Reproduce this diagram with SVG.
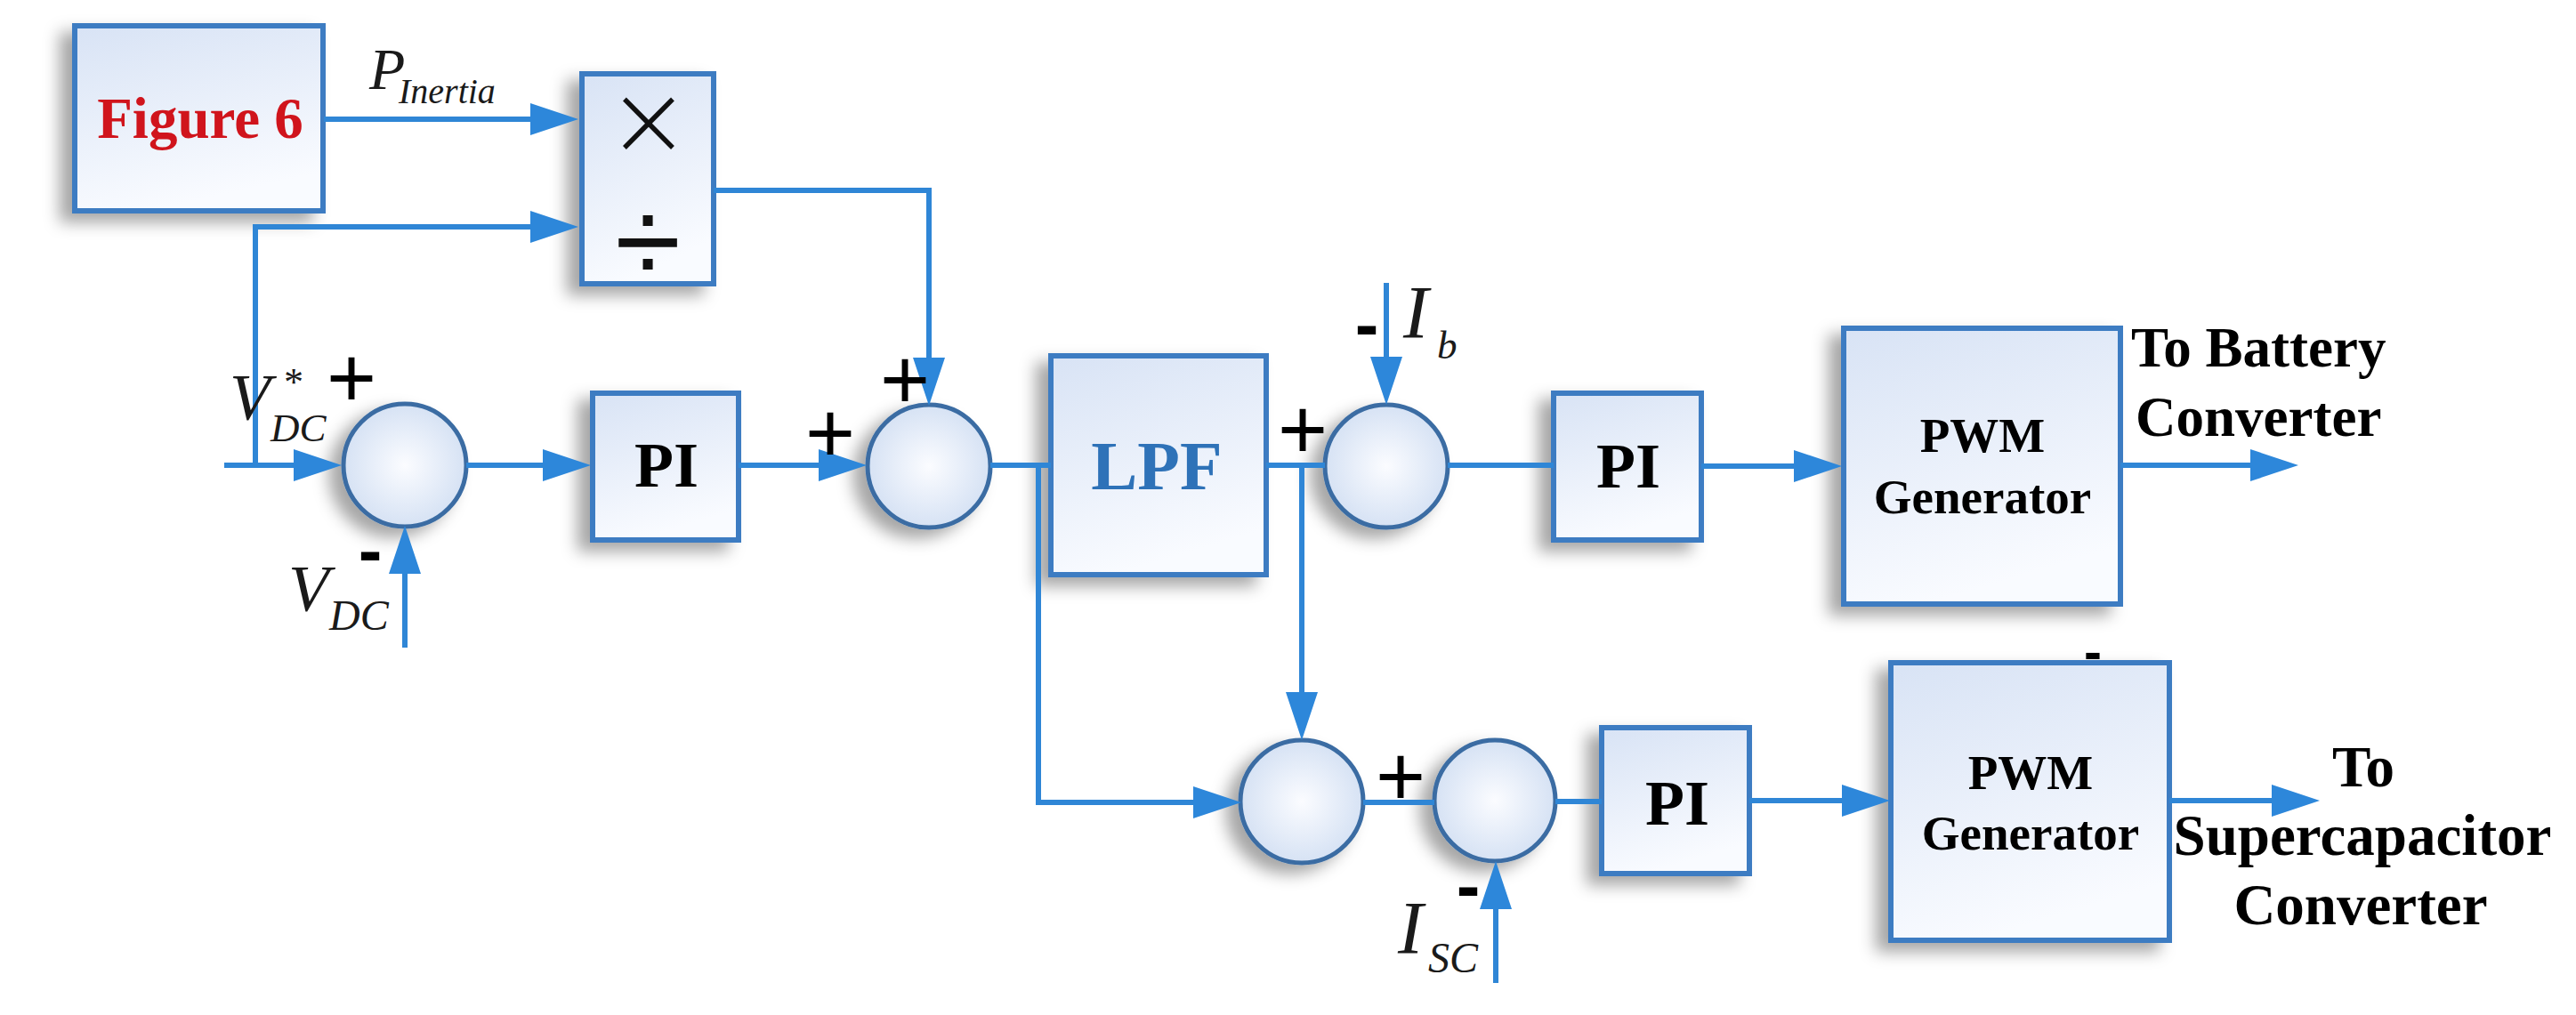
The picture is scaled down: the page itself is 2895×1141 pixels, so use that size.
<svg xmlns="http://www.w3.org/2000/svg" width="2895" height="1141" viewBox="0 0 2895 1141">
<defs>
<linearGradient id="boxfill" x1="0" y1="0" x2="0.3" y2="1"><stop offset="0" stop-color="#d8e3f5"/><stop offset="1" stop-color="#f9fbff"/></linearGradient>
<radialGradient id="circfill" cx="0.5" cy="0.5" r="0.5"><stop offset="0" stop-color="#fbfcff"/><stop offset="1" stop-color="#d6e2f4"/></radialGradient>
<filter id="shadow" x="-25%" y="-25%" width="150%" height="150%"><feGaussianBlur in="SourceAlpha" stdDeviation="9"/><feOffset dx="-14" dy="10" result="b"/><feFlood flood-color="#000" flood-opacity="0.35"/><feComposite in2="b" operator="in"/><feMerge><feMergeNode/><feMergeNode in="SourceGraphic"/></feMerge></filter>
<marker id="arrow" markerUnits="userSpaceOnUse" markerWidth="54" markerHeight="36" viewBox="0 0 54 36" refX="24" refY="18" orient="auto"><path d="M0,0 L54,18 L0,36 z" fill="#2d87da"/></marker>
</defs>
<style>
.box{fill:url(#boxfill);stroke:#3c7bc2;stroke-width:6;filter:url(#shadow)}
.sum{fill:url(#circfill);stroke:#3a6ca3;stroke-width:5;filter:url(#shadow)}
.wire{fill:none;stroke:#2f86d6;stroke-width:6}
.arr{marker-end:url(#arrow)}
.lbl{font-family:"Liberation Serif","Times New Roman",serif;font-weight:bold;fill:#000}
.mid{text-anchor:middle}
.math{font-family:"Liberation Serif","Times New Roman",serif;font-style:italic;fill:#1a1a1a}
.sign{font-family:"Liberation Sans",Arial,sans-serif;font-size:96px;fill:#000;text-anchor:middle}
.minus{font-family:"Liberation Sans",Arial,sans-serif;font-weight:bold;font-size:80px;fill:#000;text-anchor:middle}
.times{font-family:"DejaVu Sans","Liberation Sans",sans-serif;font-weight:200;fill:#111;text-anchor:middle}
.div{font-family:"Liberation Sans",Arial,sans-serif;fill:#111;text-anchor:middle}
</style>
<rect width="2895" height="1141" fill="#fff"/>

<g id="fig6">
<rect class="box" x="84" y="29" width="279" height="208"/>
<text class="lbl mid" x="225" y="155" font-size="65" style="fill:#d0141c">Figure 6</text>
</g>
<g id="muldiv">
<rect class="box" x="654" y="83" width="148" height="236"/>
<text class="times" x="729" y="174" font-size="112">×</text>
<text class="div" x="728" y="318" font-size="135">÷</text>
</g>
<g id="sum1"><circle class="sum" cx="455" cy="523" r="69"/></g>
<g id="pi1">
<rect class="box" x="666" y="442" width="164" height="165"/>
<text class="lbl mid" x="749" y="547" font-size="72">PI</text>
</g>
<g id="sum2"><circle class="sum" cx="1044" cy="524" r="69"/></g>
<g id="lpf">
<rect class="box" x="1181" y="400" width="242" height="246"/>
<text class="lbl mid" x="1300" y="550" font-size="78" style="fill:#2e72b8">LPF</text>
</g>
<g id="sum3"><circle class="sum" cx="1558" cy="524" r="69"/></g>
<g id="pi2">
<rect class="box" x="1746" y="442" width="166" height="165"/>
<text class="lbl mid" x="1830" y="548" font-size="72">PI</text>
</g>
<g id="pwm1">
<rect class="box" x="2072" y="369" width="311" height="310"/>
<text class="lbl mid" x="2228" y="508" font-size="55">PWM</text>
<text class="lbl mid" x="2228" y="577" font-size="55">Generator</text>
</g>
<g id="sum4"><circle class="sum" cx="1463" cy="901" r="69"/></g>
<g id="sum5"><circle class="sum" cx="1680" cy="900" r="68"/></g>
<g id="pi3">
<rect class="box" x="1800" y="818" width="166" height="164"/>
<text class="lbl mid" x="1885" y="927" font-size="72">PI</text>
</g>
<g id="pwm2">
<rect class="box" x="2125" y="745" width="313" height="312"/>
<text class="lbl mid" x="2282" y="887" font-size="55">PWM</text>
<text class="lbl mid" x="2282" y="955" font-size="55">Generator</text>
</g>

<g id="connectors">
<path class="wire arr" d="M364,134 H620"/>
<path class="wire arr" d="M287,523 V255 H620"/>
<path class="wire arr" d="M802,214 H1044 V426"/>
<path class="wire arr" d="M252,523 H354"/>
<path class="wire arr" d="M455,728 V621"/>
<path class="wire arr" d="M524,523 H634"/>
<path class="wire arr" d="M830,523 H944"/>
<path class="wire" d="M1113,523 H1181"/>
<path class="wire arr" d="M1167,523 V902 H1365"/>
<path class="wire" d="M1423,523 H1489"/>
<path class="wire arr" d="M1463,523 V802"/>
<path class="wire arr" d="M1558,318 V425"/>
<path class="wire" d="M1627,523 H1746"/>
<path class="wire arr" d="M1912,524 H2040"/>
<path class="wire arr" d="M2383,523 H2553"/>
<path class="wire" d="M1532,902 H1612"/>
<path class="wire arr" d="M1681,1105 V998"/>
<path class="wire" d="M1748,901 H1800"/>
<path class="wire arr" d="M1966,900 H2094"/>
<path class="wire arr" d="M2438,900 H2577"/>
</g>

<g id="labels">
<text class="math" font-size="66"><tspan x="415" y="100">P</tspan><tspan x="448" y="116" font-size="40">Inertia</tspan></text>
<text class="math" font-size="75"><tspan x="258" y="472">V</tspan><tspan x="317" y="444" font-size="44">*</tspan><tspan x="304" y="496" font-size="45">DC</tspan></text>
<text class="math" font-size="75"><tspan x="324" y="687">V</tspan><tspan x="370" y="708" font-size="48">DC</tspan></text>
<text class="math" font-size="85"><tspan x="1577" y="380">I</tspan><tspan x="1615" y="403" font-size="45">b</tspan></text>
<text class="math" font-size="85"><tspan x="1571" y="1072">I</tspan><tspan x="1605" y="1093" font-size="48">SC</tspan></text>
<text class="sign" x="395" y="458">+</text>
<text class="minus" x="416" y="646">-</text>
<text class="sign" x="933" y="520">+</text>
<text class="sign" x="1017" y="460">+</text>
<text class="sign" x="1464" y="516">+</text>
<text class="minus" x="1536" y="392">-</text>
<text class="sign" x="1574" y="906">+</text>
<text class="minus" x="1650" y="1023">-</text>
<text class="minus" x="2352" y="753" style="font-size:60px">-</text>
<text class="lbl" x="2395" y="412" font-size="63">To Battery</text>
<text class="lbl" x="2400" y="490" font-size="63">Converter</text>
<text class="lbl mid" x="2656" y="884" font-size="65">To</text>
<text class="lbl mid" x="2655" y="961" font-size="65">Supercapacitor</text>
<text class="lbl mid" x="2653" y="1039" font-size="65">Converter</text>
</g>
</svg>
